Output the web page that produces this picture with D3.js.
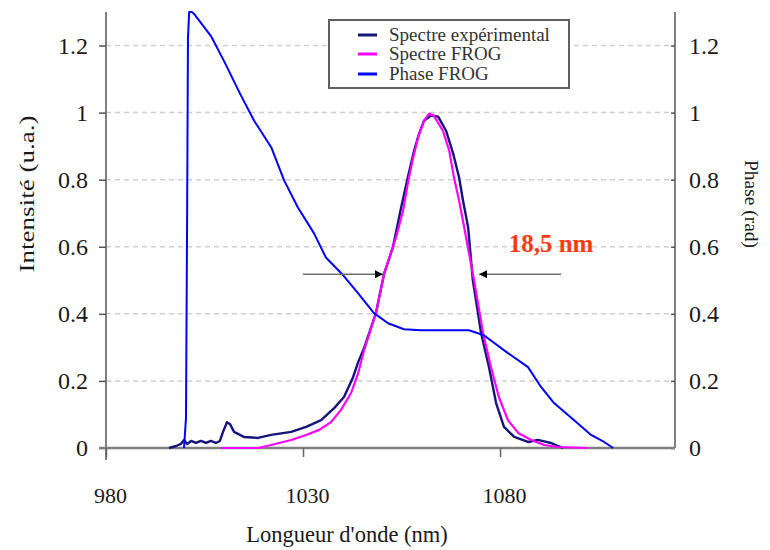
<!DOCTYPE html>
<html>
<head>
<meta charset="utf-8">
<script src="https://cdn.jsdelivr.net/npm/d3@7"></script>
<style>
  html, body { margin: 0; padding: 0; background: #ffffff; }
  svg { display: block; font-family: "Liberation Serif", "Times New Roman", serif; }
</style>
</head>
<body>
<svg id="chart" width="770" height="550"></svg>
<script>
// ---------- data ----------
const wavelengthTicks = [980, 1030, 1080];
const intensityTicks = [0, 0.2, 0.4, 0.6, 0.8, 1, 1.2];
const phaseTicks = [0, 0.2, 0.4, 0.6, 0.8, 1, 1.2];
const intensityTickLabels = ["0", "0.2", "0.4", "0.6", "0.8", "1", "1.2"];
const phaseTickLabels = ["0", "0.2", "0.4", "0.6", "0.8", "1", "1.2"];

const seriesNames = ["Spectre expérimental", "Spectre FROG", "Phase FROG"];

const expNm = [996.0, 997.8, 999.0, 999.8, 1000.6, 1001.6, 1002.8, 1004.1, 1005.4, 1006.6, 1007.9, 1008.9,
  1009.7, 1010.7, 1011.5, 1012.5, 1015.0, 1018.6, 1021.9, 1027.0, 1030.8, 1034.6, 1037.9, 1040.4,
  1042.7, 1044.0, 1045.5, 1048.5, 1050.6, 1052.8, 1054.9, 1056.6, 1058.2, 1059.4, 1060.7, 1062.5,
  1064.3, 1066.3, 1068.1, 1069.6, 1070.6, 1071.9, 1073.1, 1075.2, 1077.2, 1079.0, 1081.0, 1083.6,
  1087.1, 1089.6, 1092.9, 1094.7, 1096.0];
const expVal = [0, 0.006, 0.012, 0.024, 0.012, 0.021, 0.015, 0.021, 0.015, 0.021, 0.015, 0.021,
  0.048, 0.077, 0.071, 0.048, 0.033, 0.030, 0.039, 0.048, 0.063, 0.083, 0.119, 0.152,
  0.211, 0.256, 0.298, 0.402, 0.521, 0.598, 0.717, 0.807, 0.887, 0.935, 0.976, 0.991,
  0.988, 0.946, 0.878, 0.807, 0.738, 0.658, 0.500, 0.342, 0.241, 0.134, 0.063, 0.033,
  0.018, 0.024, 0.015, 0.006, 0];

const frogNm = [1009.2, 1018.6, 1021.9, 1027.0, 1030.8, 1034.1, 1037.1, 1039.6, 1042.2, 1044.0, 1045.5,
  1048.5, 1050.6, 1053.6, 1055.4, 1056.6, 1057.9, 1059.2, 1060.7, 1062.0, 1063.2, 1065.5, 1067.1,
  1068.3, 1069.6, 1070.9, 1073.4, 1075.7, 1077.7, 1079.7, 1082.0, 1084.6, 1087.9, 1091.2, 1094.7, 1102.3];
const frogVal = [0, 0, 0.009, 0.024, 0.039, 0.054, 0.077, 0.113, 0.164, 0.223, 0.292,
  0.402, 0.521, 0.628, 0.708, 0.789, 0.863, 0.926, 0.976, 0.997, 0.991, 0.946, 0.887,
  0.807, 0.738, 0.658, 0.500, 0.342, 0.241, 0.152, 0.083, 0.045, 0.024, 0.009, 0.003, 0];

const phaseNm = [999.8, 1000.3, 1000.6, 1000.8, 1001.1, 1001.8, 1002.3, 1006.6, 1009.9, 1014.3, 1017.6,
  1022.0, 1025.2, 1028.7, 1032.8, 1035.8, 1040.2, 1044.0, 1048.0, 1051.6, 1055.6, 1059.9, 1072.1,
  1075.9, 1082.0, 1087.1, 1090.4, 1093.7, 1098.8, 1103.1, 1106.4, 1108.7];
const phaseVal = [0, 0.09, 0.72, 1.22, 1.30, 1.30, 1.295, 1.229, 1.155, 1.05, 0.976,
  0.895, 0.798, 0.717, 0.640, 0.568, 0.515, 0.461, 0.402, 0.372, 0.354, 0.351, 0.351,
  0.336, 0.283, 0.241, 0.182, 0.134, 0.083, 0.039, 0.018, 0];

// FWHM annotation (data coordinates)
const fwhmLabel = "18,5 nm";
const fwhmLevel = 0.518;
const fwhmLeftArrow = [1030.0, 1050.3];   // from -> to (head)
const fwhmRightArrow = [1095.5, 1074.7];  // from -> to (head)
const fwhmLabelPos = [1082.2, 0.585];

// ---------- layout ----------
const svg = d3.select("#chart");
const plotLeft = 106, plotRight = 675, plotTop = 12, plotBottom = 448;

const x = d3.scaleLinear().domain([980, 1124.4]).range([plotLeft, plotRight]);
const y = d3.scaleLinear().domain([0, 1.3]).range([plotBottom, plotTop]);
const y2 = d3.scaleLinear().domain([0, 1.3]).range([plotBottom, plotTop]);

const colors = ["#14147a", "#ff00ff", "#0000ff"];
const axisGray = "#7f7f7f";
const textColor = "#1a1a1a";

// gridlines
svg.append("g").selectAll("line")
  .data(intensityTicks.filter(d => d > 0))
  .join("line")
  .attr("x1", plotLeft).attr("x2", plotRight)
  .attr("y1", d => y(d)).attr("y2", d => y(d))
  .attr("stroke", "#cfcfcf").attr("stroke-width", 1.5)
  .attr("stroke-dasharray", "5,4");

// left axis
const gL = svg.append("g").attr("transform", `translate(${plotLeft},0)`)
  .call(d3.axisLeft(y).tickValues(intensityTicks).tickSize(7).tickPadding(11)
    .tickFormat((d, i) => intensityTickLabels[i]));
gL.select(".domain").attr("stroke", axisGray).attr("stroke-width", 2)
  .attr("d", `M0,${plotTop}V${plotBottom + 12}`);
gL.selectAll(".tick line").attr("stroke", "#555").attr("stroke-width", 1.5);
gL.selectAll(".tick text").attr("font-size", 24).attr("fill", textColor)
  .attr("font-family", "Liberation Serif, serif");

// right axis
const gR = svg.append("g").attr("transform", `translate(${plotRight},0)`)
  .call(d3.axisRight(y2).tickValues(phaseTicks).tickSize(-4).tickPadding(14)
    .tickFormat((d, i) => phaseTickLabels[i]));
gR.select(".domain").attr("stroke", axisGray).attr("stroke-width", 2)
  .attr("d", `M0,${plotTop}V${plotBottom}`);
gR.selectAll(".tick line").attr("stroke", "#555").attr("stroke-width", 1.5);
gR.selectAll(".tick text").attr("font-size", 24).attr("fill", textColor)
  .attr("font-family", "Liberation Serif, serif");

// bottom axis
const gB = svg.append("g").attr("transform", `translate(0,${plotBottom})`)
  .call(d3.axisBottom(x).tickValues(wavelengthTicks).tickSize(9).tickPadding(30)
    .tickFormat(d3.format("d")));
gB.select(".domain").attr("stroke", axisGray).attr("stroke-width", 2.5)
  .attr("d", `M${plotLeft - 7},0H${plotRight}`);
gB.selectAll(".tick line").attr("stroke", "#666").attr("stroke-width", 1.5);
gB.selectAll(".tick text").attr("font-size", 22).attr("fill", textColor)
  .attr("dx", 4).attr("font-family", "Liberation Serif, serif");

// axis titles
svg.append("text")
  .attr("transform", `translate(34,${194}) rotate(-90)`)
  .attr("text-anchor", "middle")
  .attr("font-size", 22).attr("fill", textColor)
  .attr("textLength", 157).attr("lengthAdjust", "spacingAndGlyphs")
  .text("Intensité (u.a.)");

svg.append("text")
  .attr("transform", `translate(745,${204}) rotate(90)`)
  .attr("text-anchor", "middle")
  .attr("font-size", 18).attr("fill", textColor)
  .attr("textLength", 88).attr("lengthAdjust", "spacingAndGlyphs")
  .text("Phase (rad)");

svg.append("text")
  .attr("x", 347).attr("y", 542)
  .attr("text-anchor", "middle")
  .attr("font-size", 22.5).attr("fill", textColor)
  .text("Longueur d'onde (nm)");

// curves
const line = d3.line().x(d => x(d[0])).y(d => y(d[1]));
const line2 = d3.line().x(d => x(d[0])).y(d => y2(d[1]));

svg.append("path").datum(d3.zip(expNm, expVal))
  .attr("d", line).attr("fill", "none").attr("stroke", colors[0])
  .attr("stroke-width", 2.4).attr("stroke-linejoin", "round");
svg.append("path").datum(d3.zip(frogNm, frogVal))
  .attr("d", line).attr("fill", "none").attr("stroke", colors[1])
  .attr("stroke-width", 2.2).attr("stroke-linejoin", "round");
svg.append("path").datum(d3.zip(phaseNm, phaseVal))
  .attr("d", line2).attr("fill", "none").attr("stroke", colors[2])
  .attr("stroke-width", 2).attr("stroke-linejoin", "round");

// FWHM arrows
const defs = svg.append("defs");
defs.append("marker").attr("id", "ah")
  .attr("viewBox", "0 0 10 10").attr("refX", 10).attr("refY", 5)
  .attr("markerWidth", 8).attr("markerHeight", 8)
  .attr("markerUnits", "userSpaceOnUse")
  .attr("orient", "auto")
  .append("path").attr("d", "M0,0L10,5L0,10Z").attr("fill", "#000");

[fwhmLeftArrow, fwhmRightArrow].forEach(a => {
  svg.append("line")
    .attr("x1", x(a[0])).attr("x2", x(a[1]))
    .attr("y1", y(fwhmLevel)).attr("y2", y(fwhmLevel))
    .attr("stroke", "#6e6e6e").attr("stroke-width", 1.6)
    .attr("marker-end", "url(#ah)");
});

svg.append("text")
  .attr("x", x(fwhmLabelPos[0])).attr("y", y(fwhmLabelPos[1]))
  .attr("font-size", 25).attr("font-weight", "bold")
  .attr("fill", "#ff3a12")
  .text(fwhmLabel);

// legend
const lg = svg.append("g");
lg.append("rect").attr("x", 329).attr("y", 20).attr("width", 240).attr("height", 68)
  .attr("fill", "#fff").attr("stroke", "#606060").attr("stroke-width", 2);
const legendRows = [35, 54, 74];
seriesNames.forEach((name, i) => {
  lg.append("line").attr("x1", 358).attr("x2", 377)
    .attr("y1", legendRows[i]).attr("y2", legendRows[i])
    .attr("stroke", colors[i]).attr("stroke-width", 3);
  lg.append("text").attr("x", 389).attr("y", legendRows[i] + 6)
    .attr("font-size", 19).attr("fill", "#333").text(name);
});
</script>
</body>
</html>
